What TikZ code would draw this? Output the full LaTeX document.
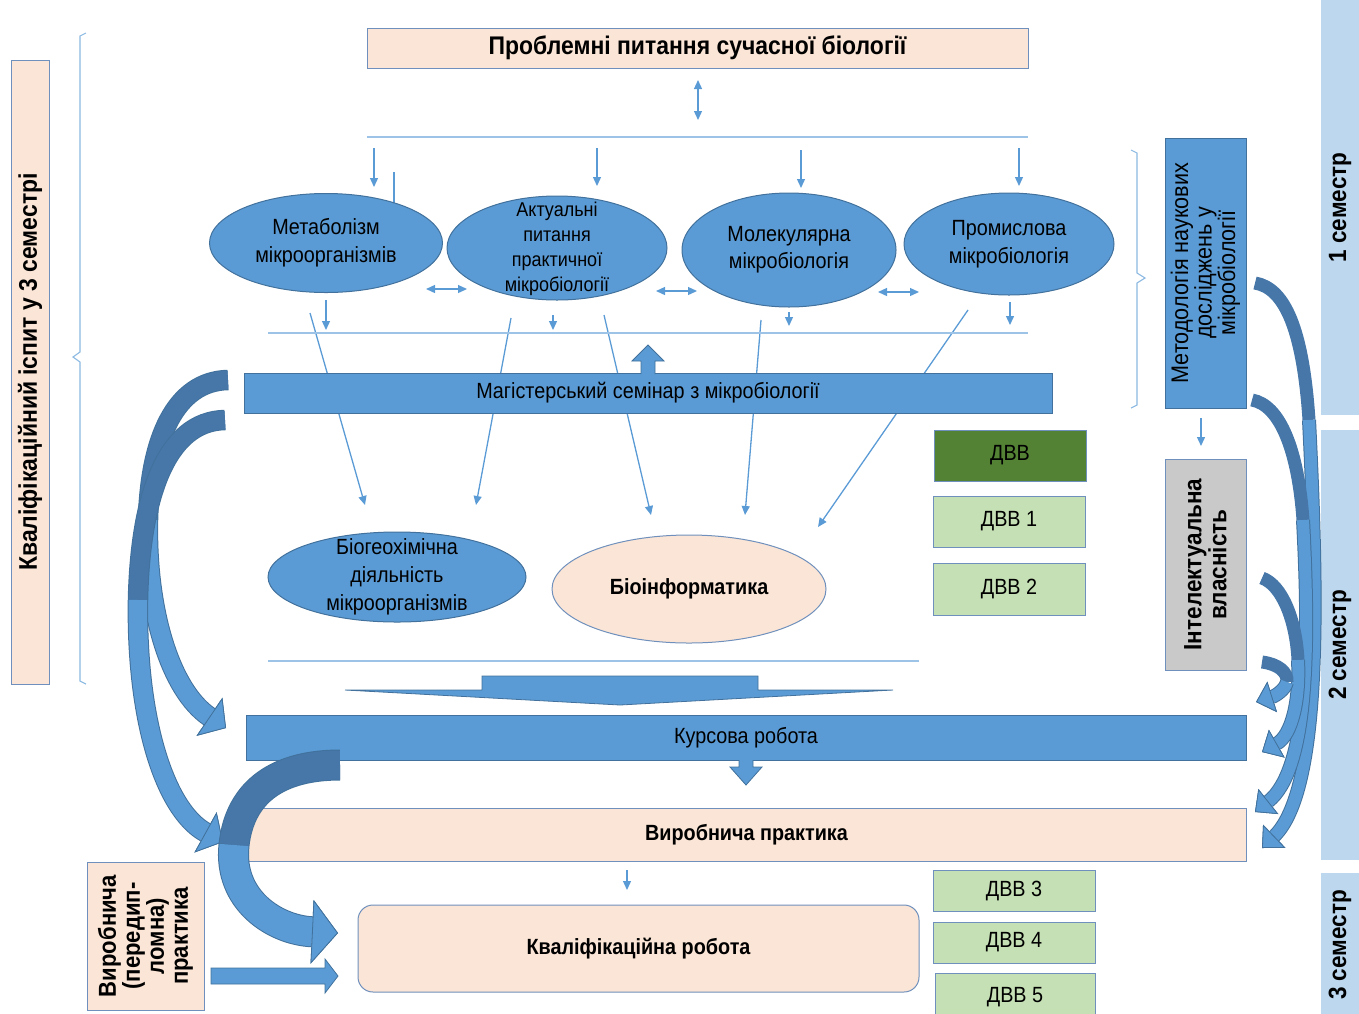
\documentclass[tikz,border=0pt]{standalone}
\usepackage{fontspec}
\setmainfont{Liberation Sans}[FakeStretch=0.9]
\usetikzlibrary{arrows.meta,shapes.geometric}

\definecolor{boxblue}{HTML}{5B9BD5}
\definecolor{edgeblue}{HTML}{41719C}
\definecolor{shadeblue}{HTML}{4677A8}
\definecolor{peach}{HTML}{FBE5D6}
\definecolor{peachedge}{HTML}{6F90BC}
\definecolor{lineblue}{HTML}{9DC3E6}
\definecolor{dvvdark}{HTML}{548235}
\definecolor{dvvlight}{HTML}{C5E0B4}
\definecolor{greybox}{HTML}{C9C9C9}
\definecolor{semblue}{HTML}{BDD7EE}

\newcommand{\fsz}[2]{\fontsize{#1}{#2}\selectfont}

\tikzset{
  topic/.style={draw=edgeblue, fill=boxblue, ellipse, line width=1pt, inner sep=0pt},
  bar/.style={draw=edgeblue, fill=boxblue, line width=1pt, inner sep=0pt},
  peachbox/.style={draw=peachedge, fill=peach, line width=1pt, inner sep=0pt, align=center},
  dvv/.style={draw=peachedge, fill=dvvlight, line width=1pt, inner sep=0pt, font=\fsz{22}{26}},
  sem/.style={fill=semblue, rotate=90, inner sep=0pt, minimum height=38pt, font=\bfseries\fsz{25}{29}},
  arr/.style={draw=boxblue, line width=1.3pt, -{Triangle[length=9pt,width=8pt]}},
  darr/.style={draw=boxblue, line width=1.3pt, {Triangle[length=9pt,width=8pt]}-{Triangle[length=9pt,width=8pt]}},
  thinline/.style={draw=lineblue, line width=2pt},
  brace/.style={draw=boxblue!70, line width=1.1pt},
  blockarrow/.style={fill=boxblue, draw=edgeblue, line width=0.8pt},
  lefthead/.tip={Triangle[length=20pt,width=46pt,line width=0.8pt,fill=boxblue,color=edgeblue]},
  bighead/.tip={Triangle[length=26pt,width=64pt,line width=0.8pt,fill=boxblue,color=edgeblue]},
  righthead/.tip={Triangle[length=17pt,width=32pt,line width=0.8pt,fill=boxblue,color=edgeblue]},
}

\begin{document}
\begin{tikzpicture}[x=1pt,y=-1pt]
\useasboundingbox (0,0) rectangle (1359,1013);

% semesters on the right
\node[sem, minimum width=415pt] (sem1) at (1340,207.5) {1 семестр};
\node[sem, minimum width=430pt] (sem2) at (1340,645) {2 семестр};
\node[sem, minimum width=144pt] (sem3) at (1340,945) {3 семестр};

% braces
\draw[brace] (86,33) -- (80,36) -- (80,352) -- (73,357) -- (80,362) -- (80,681) -- (86,684);
\draw[brace] (1131,150) -- (1137,153) -- (1137,273) -- (1145,278) -- (1137,283) -- (1137,405) -- (1131,408);

% left column
\node[peachbox, rotate=90, minimum width=624pt, minimum height=38pt, font=\bfseries\fsz{25.5}{29}] (exam) at (30,372) {Кваліфікаційний іспит у 3 семестрі};

% top
\node[peachbox, minimum width=661pt, minimum height=40pt, font=\bfseries\fsz{25.5}{29}] (problems) at (697.5,48) {Проблемні питання сучасної біології};
\draw[darr] (698,80) -- (698,120);
\draw[thinline] (367,137) -- (1028,137);
\foreach \x/\a/\b in {374/148/187, 394/172/213, 597/148/186, 801/150/188, 1019/148/186}
  \draw[arr] (\x,\a) -- (\x,\b);

% lines through the seminar
\draw[arr] (310,313) -- (365,505);
\draw[arr] (511,318) -- (476,505);
\draw[arr] (604,315) -- (651,515);
\draw[arr] (761,320) -- (745,515);
\draw[arr] (968,310) -- (818,527);

% courses of the first semester
\node[topic, minimum width=233pt, minimum height=99pt] (metab) at (326,243) {};
\node[align=center, font=\fsz{22}{28}] at (metab) {Метаболізм\\мікроорганізмів};
\node[topic, minimum width=220pt, minimum height=104pt] (actual) at (557,248) {};
\node[align=center, font=\fsz{20}{25}] at ([yshift=-1pt]actual) {Актуальні\\питання\\практичної\\мікробіології};
\node[topic, minimum width=214pt, minimum height=114pt] (molec) at (789,250) {};
\node[align=center, font=\fsz{22}{27}] at (molec) {Молекулярна\\мікробіологія};
\node[topic, minimum width=210pt, minimum height=102pt] (indust) at (1009,244) {};
\node[align=center, font=\fsz{22}{28}] at (indust) {Промислова\\мікробіологія};

\draw[darr] (426,289) -- (467,289);
\draw[darr] (656,291) -- (697,291);
\draw[darr] (878,292) -- (919,292);
\foreach \x/\a/\b in {326/300/330, 553/315/330, 789/312/326, 1010/302/325}
  \draw[arr] (\x,\a) -- (\x,\b);
\draw[thinline] (268,333) -- (1028,333);

% seminar
\node[bar, minimum width=808pt, minimum height=40pt, font=\fsz{22}{26}] (seminar) at (648,393) {Магістерський семінар з мікробіології};
\draw[blockarrow] (641,374) -- (641,361) -- (632,361) -- (648,345) -- (664,361) -- (655,361) -- (655,374);

% second semester courses
\node[topic, minimum width=258pt, minimum height=90pt] (biogeo) at (397,577) {};
\node[align=center, font=\fsz{22}{28}] at (biogeo) {Біогеохімічна\\діяльність\\мікроорганізмів};
\node[ellipse, draw=peachedge, fill=peach, line width=1pt, minimum width=274pt, minimum height=108pt, font=\bfseries\fsz{22}{26}] (bioinf) at (689,589) {Біоінформатика};

\node[dvv, fill=dvvdark, minimum width=152pt, minimum height=51pt] (dvv) at (1010,455.5) {ДВВ};
\node[dvv, minimum width=152pt, minimum height=51pt] (dvv1) at (1009,521.5) {ДВВ 1};
\node[dvv, minimum width=152pt, minimum height=52pt] (dvv2) at (1009,589) {ДВВ 2};

% methodology and IP
\node[bar, rotate=90, minimum width=270pt, minimum height=81pt, align=center, font=\fsz{24}{23.5}] (method) at (1205.5,273) {Методологія наукових\\досліджень у\\мікробіології};
\draw[arr] (1201,418) -- (1201,446);
\node[draw=peachedge, fill=greybox, line width=1pt, rotate=90, minimum width=211pt, minimum height=81pt, align=center, font=\bfseries\fsz{25}{25}] (ip) at (1205.5,564.5) {Інтелектуальна\\власність};

% course work
\draw[thinline] (268,661) -- (919,661);
\draw[blockarrow] (345,690) -- (482,690) -- (482,676) -- (758,676) -- (758,690) -- (893,690) -- (620,705) -- cycle;
\node[bar, minimum width=1000pt, minimum height=45pt, font=\fsz{22}{26}] (course) at (746,737.5) {Курсова робота};
\draw[blockarrow] (739,760) -- (739,767) -- (730,767) -- (746,785) -- (762,767) -- (753,767) -- (753,760);

% practice
\node[peachbox, minimum width=999pt, minimum height=53pt, font=\bfseries\fsz{22}{26}] (practice) at (746.5,834.5) {Виробнича практика};
\draw[arr] (627,870) -- (627,890);

% third semester
\node[peachbox, rounded corners=15pt, minimum width=561pt, minimum height=87pt, font=\bfseries\fsz{22}{26}] (thesis) at (638.5,948.5) {Кваліфікаційна робота};
\node[dvv, minimum width=162pt, minimum height=41pt] (dvv3) at (1014,890.5) {ДВВ 3};
\node[dvv, minimum width=162pt, minimum height=41pt] (dvv4) at (1014,942.5) {ДВВ 4};
\node[dvv, minimum width=160pt, minimum height=48pt] (dvv5) at (1015,997) {ДВВ 5};
\node[peachbox, rotate=90, minimum width=148pt, minimum height=117pt, font=\bfseries\fsz{24.5}{24}] (prediploma) at (145.5,936) {Виробнича\\(передип-\\ломна)\\практика};
\draw[blockarrow] (211,968) -- (325,968) -- (325,959) -- (338,976) -- (325,993) -- (325,984) -- (211,984) -- cycle;

% curved arrows on the left
\draw[edgeblue, line width=20.5pt, -{lefthead}] (228,380) .. controls (175,381) and (150,440) .. (148,520) .. controls (146,610) and (170,690) .. (226,728);
\draw[shadeblue, line width=18.5pt] (228,380) .. controls (175,381) and (150,440) .. (148,520);
\draw[boxblue, line width=18.5pt, -{lefthead}] (148,520) .. controls (146,610) and (170,690) .. (226,728);

\draw[edgeblue, line width=20.5pt, -{lefthead}] (225,420) .. controls (165,421) and (140,500) .. (138,600) .. controls (136,720) and (165,810) .. (223,842);
\draw[shadeblue, line width=18.5pt] (225,420) .. controls (165,421) and (140,500) .. (138,600);
\draw[boxblue, line width=18.5pt, -{lefthead}] (138,600) .. controls (136,720) and (165,810) .. (223,842);

\draw[edgeblue, line width=31pt, -{bighead}] (340,765) .. controls (280,765) and (240,790) .. (234,845) .. controls (228,900) and (275,930) .. (338,933);
\draw[shadeblue, line width=29pt] (340,765) .. controls (280,765) and (240,790) .. (234,845);
\draw[boxblue, line width=29pt, -{bighead}] (234,845) .. controls (228,900) and (275,930) .. (338,933);

% curved arrows on the right
\foreach \p/\q in {
  {(1255,283) .. controls (1285,288) and (1303,330) .. (1309,420)}/{(1309,420) .. controls (1318,600) and (1322,790) .. (1262,848)},
  {(1252,400) .. controls (1280,405) and (1298,450) .. (1303,520)}/{(1303,520) .. controls (1310,650) and (1308,770) .. (1255,812)},
  {(1262,578) .. controls (1282,585) and (1296,620) .. (1298,660)}/{(1298,660) .. controls (1300,700) and (1292,735) .. (1262,752)},
  {(1262,662) .. controls (1278,664) and (1288,672) .. (1287,682)}/{(1287,682) .. controls (1285,690) and (1275,696) .. (1256,702)}} {
  \draw[shadeblue, line width=13pt] \p;
  \draw[edgeblue, line width=14pt, -{righthead}] \q;
  \draw[boxblue, line width=12pt, -{righthead}] \q;
}
\end{tikzpicture}
\end{document}
